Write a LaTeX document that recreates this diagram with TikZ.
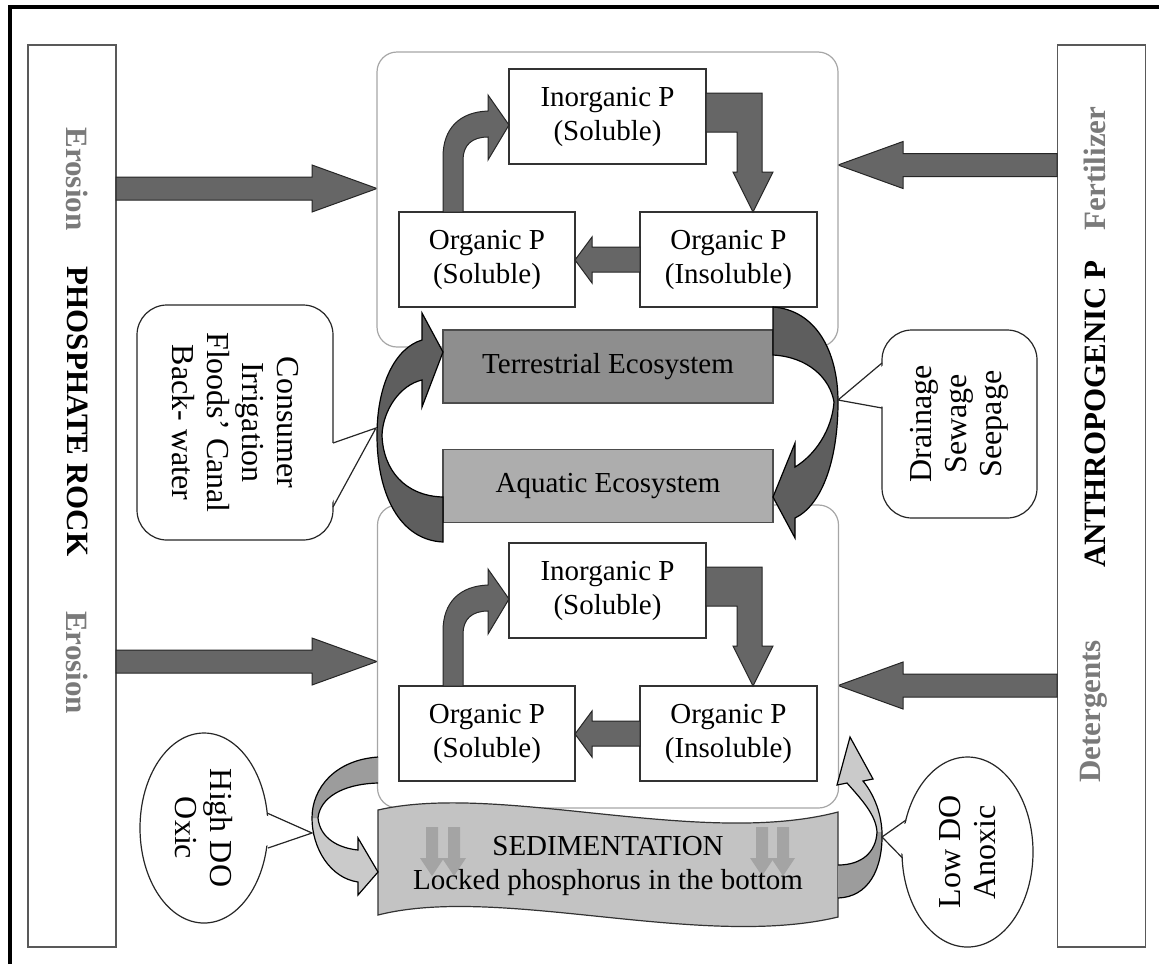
\documentclass[tikz,border=0pt]{standalone}
\usepackage{fontspec}
\setmainfont{Liberation Serif}
\usepackage{xcolor}
\definecolor{colArrow}{HTML}{666666}
\definecolor{colCurve}{HTML}{5E5E5E}
\definecolor{colTerr}{HTML}{8E8E8E}
\definecolor{colAqua}{HTML}{ADADAD}
\definecolor{colSed}{HTML}{C3C3C3}
\definecolor{colLight}{HTML}{CACACA}
\definecolor{colMid}{HTML}{9C9C9C}
\definecolor{colSink}{HTML}{A4A4A4}
\definecolor{colLabel}{HTML}{7A7A7A}
\definecolor{colEdge}{HTML}{A6A6A6}
\usetikzlibrary{positioning, shapes.geometric, calc}
\tikzset{
    pbox/.style={
        draw=black!80, fill=white, line width=0.6pt,
        minimum width=#1, minimum height=47.5pt,
        align=center, inner sep=1pt
    },
    pbox/.default=88pt,
    sidebox/.style={draw=black!65, fill=white, line width=0.8pt,
        minimum width=44pt, minimum height=451pt},
    sidelabel/.style={text=colLabel, inner sep=0pt,
        font=\fontsize{15.5pt}{18pt}\selectfont\bfseries},
    sidetitle/.style={text=black, inner sep=0pt,
        font=\fontsize{15.5pt}{18pt}\selectfont\bfseries},
    tank/.style={draw=colEdge, fill=white, line width=0.6pt,
        rounded corners=10pt, minimum width=230.5pt},
    ecobox/.style={draw=black!70, fill=#1, line width=0.6pt,
        minimum width=165pt, minimum height=36.5pt},
    blockarrow/.style={fill=colArrow, draw=black!85, line width=0.5pt},
    curvearrow/.style={fill=colCurve, draw=black, line width=0.6pt},
    bubble/.style={draw=black!85, fill=white, line width=0.6pt, align=center,
        font=\fontsize{16pt}{17.5pt}\selectfont},
    pointer/.style={draw=black!85, line width=0.6pt},
}

\begin{document}
\begin{tikzpicture}[x=0.5pt, y=-0.5pt, font=\fontsize{14.5pt}{17pt}\selectfont]
    \useasboundingbox (0,0) rectangle (1159,964);
    \draw[line width=2pt] (10,964) -- (10,6.5) -- (1159,6.5);

    % sources at the sides
    \node[sidebox] (rock) at (72,496) {};
    \node[sidebox] (anthro) at (1101.5,496) {};
    \node[sidelabel, rotate=-90] (eros1) at (77,179) {Erosion};
    \node[sidetitle, rotate=-90] (rocklbl) at (78,411.5) {PHOSPHATE ROCK};
    \node[sidelabel, rotate=-90] (eros2) at (77,662.5) {Erosion};
    \node[sidelabel, rotate=90] (fert) at (1095,168.5) {Fertilizer};
    \node[sidetitle, rotate=90] (anthrolbl) at (1095,414) {ANTHROPOGENIC P};
    \node[sidelabel, rotate=90] (deterg) at (1094,711.5) {Detergents};

    \draw[blockarrow] (116,177) -- (312,177) -- (312,165) -- (377,188.5)
        -- (312,212) -- (312,200) -- (116,200) -- cycle;
    \draw[blockarrow] (116,650) -- (312,650) -- (312,638) -- (377,661.5)
        -- (312,685) -- (312,673) -- (116,673) -- cycle;
    \draw[blockarrow] (1057,153.5) -- (903,153.5) -- (903,141.5) -- (838,165)
        -- (903,188.5) -- (903,176.5) -- (1057,176.5) -- cycle;
    \draw[blockarrow] (1057,674) -- (903,674) -- (903,662) -- (838,685.5)
        -- (903,709) -- (903,697) -- (1057,697) -- cycle;

    % terrestrial cycle
    \node[tank, minimum height=147.5pt] (upper) at (607.5,199.5) {};
    \node[pbox=98.5pt] (inorgT) at (607.5,116.5) {Inorganic P\\(Soluble)};
    \node[pbox] (orgsolT) at (487,259.5) {Organic P\\(Soluble)};
    \node[pbox=88.5pt] (orginsT) at (728.5,259.5) {Organic P\\(Insoluble)};
    \draw[blockarrow] (443,212) -- (443,157) .. controls (443,128) and (460,112) .. (488,111)
        -- (488,95) -- (509,125) -- (488,160) -- (488,137)
        .. controls (472,137) and (463,145) .. (463,160) -- (463,212) -- cycle;
    \draw[blockarrow] (706,93) -- (762,93) -- (762,172) -- (773,172) -- (753,212)
        -- (733,172) -- (737,172) -- (737,132) -- (706,132) -- cycle;
    \draw[blockarrow] (640,247) -- (592,247) -- (592,237) -- (575,260)
        -- (592,283) -- (592,272) -- (640,272) -- cycle;

    % aquatic cycle
    \node[tank, minimum height=151.5pt] (lower) at (608,656.5) {};
    \node[pbox=98.5pt] (inorgB) at (607.5,590.5) {Inorganic P\\(Soluble)};
    \node[pbox] (orgsolB) at (487,733.5) {Organic P\\(Soluble)};
    \node[pbox=88.5pt] (orginsB) at (728.5,733.5) {Organic P\\(Insoluble)};
    \draw[blockarrow] (443,686) -- (443,631) .. controls (443,602) and (460,586) .. (488,585)
        -- (488,569) -- (509,599) -- (488,634) -- (488,611)
        .. controls (472,611) and (463,619) .. (463,634) -- (463,686) -- cycle;
    \draw[blockarrow] (706,567) -- (762,567) -- (762,646) -- (773,646) -- (753,686)
        -- (733,646) -- (737,646) -- (737,606) -- (706,606) -- cycle;
    \draw[blockarrow] (640,721) -- (592,721) -- (592,711) -- (575,734)
        -- (592,757) -- (592,746) -- (640,746) -- cycle;

    % ecosystems
    \node[ecobox=colTerr] (terr) at (608,366.5) {Terrestrial Ecosystem};
    \node[ecobox=colAqua, below=22.5pt of terr] (aqua) {Aquatic Ecosystem};

    \draw[curvearrow] (443,542) .. controls (400,540) and (377,495) .. (377,435)
        .. controls (377,385) and (395,348) .. (422,340)
        -- (422,313) -- (443,352) -- (422,407) -- (422,380)
        .. controls (400,385) and (383,410) .. (382,435)
        .. controls (383,470) and (405,496) .. (443,497) -- cycle;
    \draw[curvearrow] (773,307) .. controls (815,310) and (838,350) .. (838,402)
        .. controls (838,460) and (822,505) .. (795,518)
        -- (795,538) -- (773,497) -- (795,443) -- (795,467)
        .. controls (815,455) and (832,430) .. (834,402)
        .. controls (830,378) and (808,357) .. (773,355) -- cycle;

    % callouts
    \node[bubble, rotate=-90, rounded corners=15pt, minimum width=117.5pt,
          minimum height=98pt] (inflow) at (235,422.5)
          {Consumer\\Irrigation\\Floods' Canal\\Back- water};
    \fill[white] (330,444) -- (375,428) -- (330,506) -- cycle;
    \draw[pointer] (333,443) -- (376,428) -- (333,507);

    \node[bubble, rotate=90, rounded corners=15pt, minimum width=94pt,
          minimum height=77.5pt] (outflow) at (959.5,424)
          {Drainage\\Sewage\\Seepage};
    \fill[white] (885,364) -- (838,400) -- (885,407) -- cycle;
    \draw[pointer] (882,363) -- (838,400) -- (882,408);

    % sedimentation
    \draw[fill=colSed, draw=black!80, line width=0.6pt]
        (378,810) .. controls (500,782) and (700,848) .. (838,812)
        -- (838,917) .. controls (700,950) and (500,884) .. (378,915) -- cycle;
    \fill[colSink] (426,827) -- (438,827) -- (438,858) -- (444,858) -- (432,876)
        -- (420,858) -- (426,858) -- cycle;
    \fill[colSink] (448,827) -- (460,827) -- (460,858) -- (466,858) -- (454,876)
        -- (442,858) -- (448,858) -- cycle;
    \fill[colSink] (756,827) -- (768,827) -- (768,858) -- (774,858) -- (762,876)
        -- (750,858) -- (756,858) -- cycle;
    \fill[colSink] (777,827) -- (789,827) -- (789,858) -- (795,858) -- (783,876)
        -- (771,858) -- (777,858) -- cycle;
    \node[align=center] (sed) at (608,866) {SEDIMENTATION\\Locked phosphorus in the bottom};

    % oxic / anoxic exchange
    \fill[colLight] (378,757) .. controls (335,760) and (312,788) .. (312,818)
        .. controls (312,848) and (330,878) .. (358,882)
        -- (358,895) -- (378,872) -- (358,838) -- (358,850)
        .. controls (338,848) and (320,838) .. (318,818)
        .. controls (320,798) and (342,784) .. (378,783) -- cycle;
    \begin{scope}
        \clip (290,740) rectangle (380,818);
        \fill[colMid] (378,757) .. controls (335,760) and (312,788) .. (312,818)
            -- (318,818) .. controls (320,798) and (342,784) .. (378,783) -- cycle;
    \end{scope}
    \draw[line width=0.6pt] (378,757) .. controls (335,760) and (312,788) .. (312,818)
        .. controls (312,848) and (330,878) .. (358,882)
        -- (358,895) -- (378,872) -- (358,838) -- (358,850)
        .. controls (338,848) and (320,838) .. (318,818)
        .. controls (320,798) and (342,784) .. (378,783);

    \fill[colLight] (838,898) .. controls (868,897) and (883,870) .. (882,832)
        .. controls (881,810) and (872,792) .. (863,781)
        -- (873,779) -- (850,737) -- (837,785) -- (847,783)
        .. controls (862,800) and (876,815) .. (877,832)
        .. controls (876,852) and (862,865) .. (838,865) -- cycle;
    \begin{scope}
        \clip (830,832) rectangle (900,905);
        \fill[colMid] (838,898) .. controls (868,897) and (883,870) .. (882,832)
            -- (877,832) .. controls (876,852) and (862,865) .. (838,865) -- cycle;
    \end{scope}
    \draw[line width=0.6pt] (838,898) .. controls (868,897) and (883,870) .. (882,832)
        .. controls (881,810) and (872,792) .. (863,781)
        -- (873,779) -- (850,737) -- (837,785) -- (847,783)
        .. controls (862,800) and (876,815) .. (877,832)
        .. controls (876,852) and (862,865) .. (838,865);

    \node[bubble, ellipse, rotate=-90, minimum width=95pt, minimum height=64pt]
          (oxic) at (204,828) {High DO\\Oxic};
    \fill[white] (265,815) -- (312,833) -- (265,846) -- cycle;
    \draw[pointer] (267,813) -- (312,833) -- (268,848);

    \node[bubble, ellipse, rotate=90, minimum width=95pt, minimum height=65.5pt]
          (anoxic) at (967.5,852) {Low DO\\Anoxic};
    \fill[white] (908,822) -- (882,837) -- (905,856) -- cycle;
    \draw[pointer] (906,820) -- (882,837) -- (902.5,858);
\end{tikzpicture}
\end{document}
